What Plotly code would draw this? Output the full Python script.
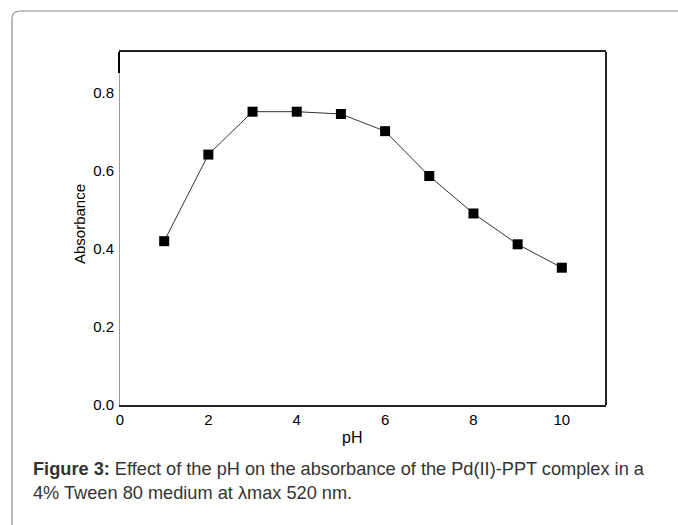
import plotly.graph_objects as go

ph = [1, 2, 3, 4, 5, 6, 7, 8, 9, 10]
absorbance = [0.42, 0.642, 0.752, 0.752, 0.746, 0.702, 0.587, 0.491, 0.412, 0.352]
x_ticks = [0, 2, 4, 6, 8, 10]
y_ticks = [0.0, 0.2, 0.4, 0.6, 0.8]
y_tick_text = ["0.0", "0.2", "0.4", "0.6", "0.8"]

W, H = 678, 525
L, R, T, B = 120, 72, 52, 120
pw, ph_ = W - L - R, H - T - B

def px(x):
    return (x - L) / pw

def py(y):
    return (H - B - y) / ph_

fig = go.Figure()
fig.add_trace(go.Scatter(
    x=ph, y=absorbance, mode="lines+markers",
    line=dict(color="#333333", width=1),
    marker=dict(symbol="square", size=10, color="black"),
    showlegend=False,
))

font = "Liberation Sans, Arial, sans-serif"

# outer rounded frame (clipped at right/bottom)
x0, y0 = px(12), py(11)
rx, ry = 8 / pw, 8 / ph_
frame_path = (f"M {x0},{py(560)} L {x0},{y0 - ry} Q {x0},{y0} {x0 + rx},{y0} "
              f"L {px(720)},{y0}")

shapes = [
    dict(type="path", xref="paper", yref="paper", path=frame_path,
         line=dict(color="#8a8a8a", width=1.2)),
    dict(type="line", xref="paper", yref="paper", x0=1, x1=1, y0=0, y1=1,
         line=dict(color="#222222", width=2)),
    dict(type="line", xref="paper", yref="paper", x0=px(119), x1=px(119), y0=1, y1=py(73),
         line=dict(color="black", width=2)),
]

annotations = [
    dict(xref="paper", yref="paper", x=px(79), y=py(224), text="Absorbance",
         textangle=-90, showarrow=False, font=dict(family=font, size=15, color="black"),
         xanchor="center", yanchor="middle"),
    dict(xref="paper", yref="paper", x=px(352), y=py(437), text="pH",
         showarrow=False, font=dict(family=font, size=16, color="black"),
         xanchor="center", yanchor="middle"),
    dict(xref="paper", yref="paper", x=px(31), y=py(481),
         text="<b>Figure 3:</b> Effect of the pH on the absorbance of the Pd(II)-PPT complex in a<br>"
              "4% Tween 80 medium at \u03bbmax 520 nm.",
         showarrow=False, align="left", xanchor="left", yanchor="middle",
         font=dict(family=font, size=18.2, color="#333333")),
]

fig.update_layout(
    width=W, height=H,
    margin=dict(l=L, r=R, t=T, b=B),
    paper_bgcolor="white", plot_bgcolor="white",
    font=dict(family=font, size=15, color="black"),
    shapes=shapes, annotations=annotations,
    xaxis=dict(range=[0, 11], tickvals=x_ticks, showgrid=False, zeroline=False,
               showline=True, linecolor="#222222", linewidth=2, mirror=True,
               ticks="", ticklabelstandoff=0,
               tickfont=dict(family=font, size=15, color="black")),
    yaxis=dict(range=[0, 0.905], tickvals=y_ticks, ticktext=y_tick_text, showgrid=False,
               zeroline=False, showline=True, linecolor="#999999", linewidth=1,
               ticks="", ticklabelstandoff=2,
               tickfont=dict(family=font, size=15, color="black")),
)

fig.write_html("out.html")
